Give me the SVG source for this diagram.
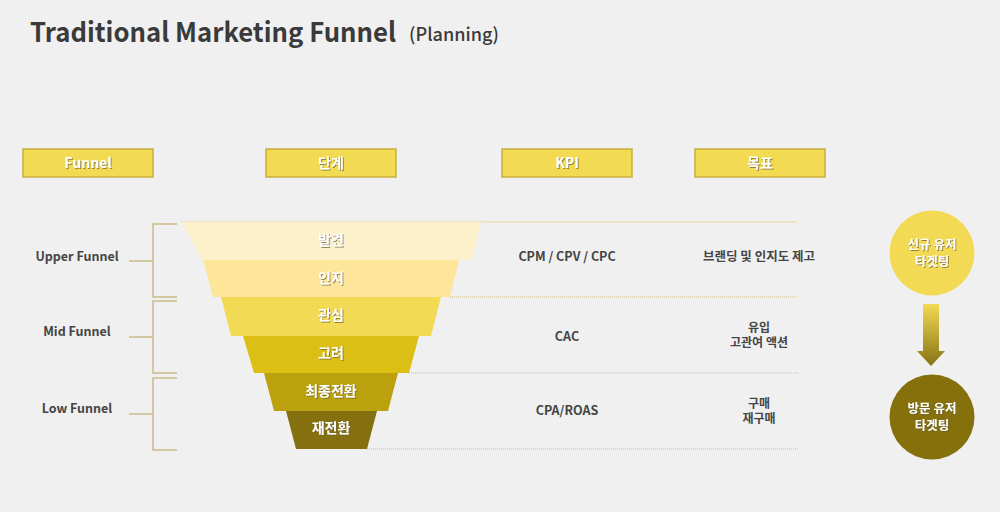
<svg xmlns="http://www.w3.org/2000/svg" width="1000" height="512" viewBox="0 0 1000 512">
<defs>
<filter id="sh" x="0" y="0" width="110%" height="112%">
<feDropShadow dx="1" dy="1" stdDeviation="0.4" flood-color="#6b5f2a" flood-opacity="0.7"/>
</filter>
<linearGradient id="ag" x1="0" y1="0" x2="0" y2="1">
<stop offset="0" stop-color="#f2da52"/>
<stop offset="1" stop-color="#877214"/>
</linearGradient>
<style>
.hdr{fill:#f2da52;stroke:#c7ae3c;stroke-width:1.5}
.wt{fill:#ffffff;font-family:"Noto Sans CJK KR","Noto Sans",sans-serif;font-weight:700;text-anchor:middle;filter:url(#sh)}
.dk{fill:#454545;font-family:"Noto Sans CJK KR","Noto Sans",sans-serif;font-weight:700;text-anchor:middle;font-size:12.5px}
.sm{font-size:12px}
.br{fill:none;stroke:#c9bb86;stroke-width:1.5}
.dot{stroke:#cbbd80;stroke-width:1;stroke-dasharray:1 1;fill:none}
</style>
</defs>
<rect width="1000" height="512" fill="#f0f0f0"/>
<g id="title">
<text x="30" y="42" font-family="'Noto Sans CJK KR','Noto Sans',sans-serif" font-weight="700" font-size="27" fill="#3a3a3a" textLength="366" lengthAdjust="spacingAndGlyphs">Traditional Marketing Funnel</text>
<text x="409" y="41" font-family="'Noto Sans CJK KR','Noto Sans',sans-serif" font-weight="500" font-size="18" fill="#3a3a3a" textLength="90" lengthAdjust="spacingAndGlyphs">(Planning)</text>
</g>
<g id="headers">
<g id="h-funnel"><rect class="hdr" x="23" y="149" width="130" height="28"/><text class="wt" x="88" y="168" font-size="14">Funnel</text></g>
<g id="h-stage"><rect class="hdr" x="266" y="149" width="130" height="28"/><text class="wt" x="331" y="168" font-size="14">단계</text></g>
<g id="h-kpi"><rect class="hdr" x="502" y="149" width="130" height="28"/><text class="wt" x="567" y="168" font-size="14">KPI</text></g>
<g id="h-goal"><rect class="hdr" x="695" y="149" width="130" height="28"/><text class="wt" x="760" y="168" font-size="14">목표</text></g>
</g>
<g id="connectors">
<line class="dot" x1="182" y1="222" x2="798" y2="222"/>
<line class="dot" x1="450" y1="297" x2="798" y2="297"/>
<line class="dot" x1="409" y1="373" x2="798" y2="373"/>
<line class="dot" x1="367" y1="449" x2="798" y2="449"/>
<path class="br" d="M177 224 H153 V297 H177 M153 261 H129"/>
<path class="br" d="M177 301 H153 V373 H177 M153 337 H129"/>
<path class="br" d="M177 378 H153 V450 H177 M153 414 H129"/>
<path d="M923 304 H939 V351 H945 L931 366 L917 351 H923 Z" fill="url(#ag)"/>
</g>
<g id="funnel-labels">
<text class="dk" x="77" y="261">Upper Funnel</text>
<text class="dk" x="77" y="336">Mid Funnel</text>
<text class="dk" x="77" y="413">Low Funnel</text>
</g>
<g id="funnel">
<g id="s1"><polygon points="182,222 481,222 472,260 202,260" fill="#fdf1cb"/><text class="wt" x="331" y="245" font-size="14">발견</text></g>
<g id="s2"><polygon points="203,260 459,260 450,297 213,297" fill="#fde69a"/><text class="wt" x="331" y="283" font-size="14">인지</text></g>
<g id="s3"><polygon points="221,297 441,297 431,336 231,336" fill="#f2da55"/><text class="wt" x="331" y="320" font-size="14">관심</text></g>
<g id="s4"><polygon points="243,336 419,336 409,373 254,373" fill="#dbbf14"/><text class="wt" x="331" y="358" font-size="14">고려</text></g>
<g id="s5"><polygon points="264,373 398,373 388,411 274,411" fill="#bba10e"/><text class="wt" x="331" y="396" font-size="14">최종전환</text></g>
<g id="s6"><polygon points="286,411 377,411 367,449 296,449" fill="#857010"/><text class="wt" x="331" y="433" font-size="14">재전환</text></g>
</g>
<g id="kpi">
<text class="dk" x="567" y="261">CPM / CPV / CPC</text>
<text class="dk" x="567" y="341">CAC</text>
<text class="dk" x="567" y="415">CPA/ROAS</text>
</g>
<g id="goals">
<text class="dk" x="759" y="261">브랜딩 및 인지도 제고</text>
<text class="dk sm" x="759" y="332">유입<tspan x="759" dy="15">고관여 액션</tspan></text>
<text class="dk sm" x="759" y="408">구매<tspan x="759" dy="15">재구매</tspan></text>
</g>
<g id="c-new">
<circle cx="932" cy="253" r="42.5" fill="#f3da55"/>
<text class="wt" x="932" y="249" font-size="12.5">신규 유저<tspan x="932" dy="17">타겟팅</tspan></text>
</g>
<g id="c-visit">
<circle cx="932" cy="417" r="42.5" fill="#85700c"/>
<text class="wt" x="932" y="413" font-size="12.5">방문 유저<tspan x="932" dy="17">타겟팅</tspan></text>
</g>
</svg>
